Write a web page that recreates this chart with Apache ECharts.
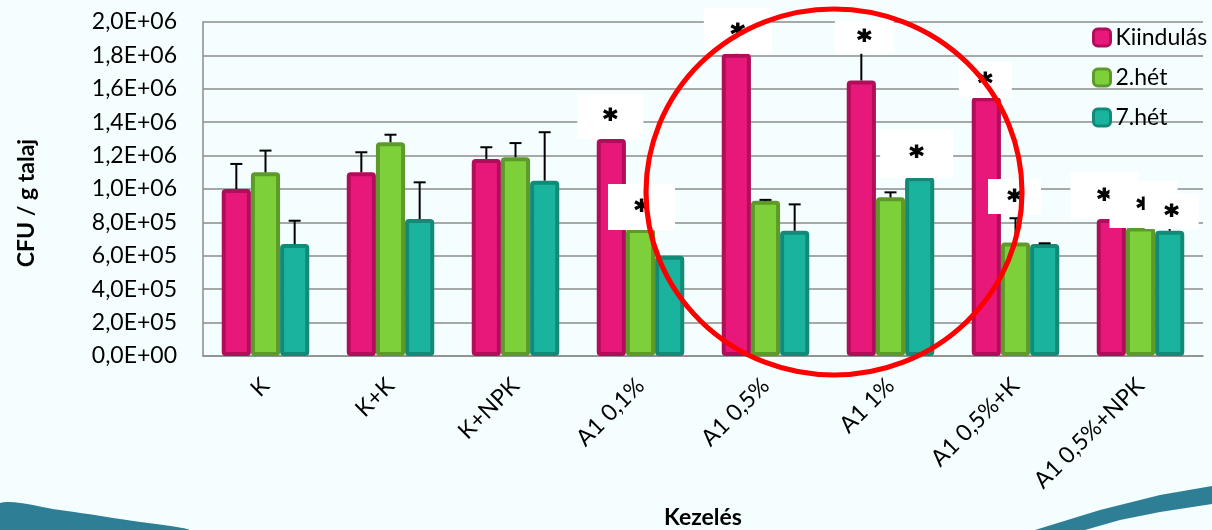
<!DOCTYPE html>
<html>
<head>
<meta charset="utf-8">
<script src="https://cdn.jsdelivr.net/npm/echarts@6/dist/echarts.min.js"></script>
<style>
  html, body { margin: 0; padding: 0; background: #f5fefe; }
  #chart { width: 1212px; height: 530px; }
</style>
</head>
<body>
<div id="chart"></div>
<script>
// Treatments on the category axis
const categories = ['K', 'K+K', 'K+NPK', 'A1 0,1%', 'A1 0,5%', 'A1 1%', 'A1 0,5%+K', 'A1 0,5%+NPK'];
const seriesNames = ['Kiindulás', '2.hét', '7.hét'];

// CFU / g soil per sampling time
const kiindulas = [1.00e6, 1.10e6, 1.18e6, 1.30e6, 1.81e6, 1.65e6, 1.55e6, 0.82e6];
const het2      = [1.10e6, 1.28e6, 1.19e6, 0.76e6, 0.93e6, 0.95e6, 0.68e6, 0.77e6];
const het7      = [0.67e6, 0.82e6, 1.05e6, 0.60e6, 0.75e6, 1.07e6, 0.67e6, 0.75e6];

// Standard deviations (upper whiskers)
const kiindulasErr = [0.15e6, 0.12e6, 0.07e6, 0.10e6, 0.10e6, 0.17e6, 0.10e6, 0.10e6];
const het2Err      = [0.13e6, 0.045e6, 0.085e6, 0.10e6, 0.005e6, 0.03e6, 0.145e6, 0.05e6];
const het7Err      = [0.14e6, 0.22e6, 0.29e6, 0, 0.158e6, 0.10e6, 0.005e6, 0.02e6];

// Significance markers: [category index, level the marker box sits on]
const kiindulasStars = [[3, 1.30e6], [4, 1.81e6], [5, 1.81e6], [6, 1.545e6], [7, 0.82e6]];
const het2Stars      = [[3, 0.755e6], [6, 0.85e6], [7, 0.766e6]];
const het7Stars      = [[5, 1.066e6], [7, 0.76e6]];

// Y axis ticks
const yMin = 0, yMax = 2.0e6, yStep = 2.0e5;

// ---- styling ----
const FONT = 'Lato, "Open Sans", sans-serif';
const fills   = ['#e8187a', '#7ed03a', '#1ab39e'];
const borders = ['#b00d5a', '#5e9a2a', '#128a78'];
const CAT_GAP = 0.30;   // share of a category band left empty

// marker box sizes [w, h] and small horizontal nudges, in marker order
const starBoxStyle = [
  [[66, 45, -1], [68, 46, 1.5], [59, 33, 3], [53, 36, -1], [68, 47, -7]],
  [[67, 46, 1], [53, 35, -1], [68, 47, 3]],
  [[73, 49, -3], [54, 35, 2]]
];

const values = [kiindulas, het2, het7];
const errs = [kiindulasErr, het2Err, het7Err];
const stars = [kiindulasStars, het2Stars, het7Stars];

function sciLabel(v) {
  // 2000000 -> "2,0E+06"
  const parts = v.toExponential(1).split('e');
  const n = parseInt(parts[1], 10);
  const exp = (n < 0 ? '-' : '+') + String(Math.abs(n)).padStart(2, '0');
  return parts[0].replace('.', ',') + 'E' + exp;
}

function markerData(si) {
  return stars[si].map((s, k) => {
    const st = starBoxStyle[si][k];
    return {
      coord: [s[0], s[1]],
      symbol: 'rect',
      symbolSize: [st[0], st[1]],
      symbolOffset: [st[2], -st[1] / 2]
    };
  });
}

const barSeries = seriesNames.map((name, si) => ({
  name: name,
  type: 'bar',
  data: values[si],
  barGap: '0%',
  barCategoryGap: (CAT_GAP * 100) + '%',
  z: 2,
  itemStyle: {
    color: fills[si],
    borderColor: borders[si],
    borderWidth: 4,
    borderRadius: 2
  },
  emphasis: { disabled: true },
  markPoint: {
    z: 5 + si,
    silent: true,
    animation: false,
    itemStyle: { color: '#ffffff', borderWidth: 0, opacity: 1 },
    label: {
      show: true,
      formatter: '*',
      position: 'inside',
      color: '#000',
      fontSize: 27,
      fontWeight: 'bold',
      fontFamily: '"DejaVu Sans", sans-serif',
      textBorderColor: '#000',
      textBorderWidth: 1.2,
      offset: [0, 5]
    },
    data: markerData(si)
  }
}));

// Whiskers drawn at each bar's own slot in the category band
const errSeries = seriesNames.map((name, si) => ({
  name: name + ' SD',
  type: 'custom',
  z: 3,
  silent: true,
  data: values[si].map((v, i) => [i, v, errs[si][i]]),
  renderItem: function (params, api) {
    const i = api.value(0), v = api.value(1), e = api.value(2);
    if (!(e > 0)) return null;
    const band = api.size([1, 0])[0];
    const bw = band * (1 - CAT_GAP) / 3;
    const base = api.coord([i, v]);
    const top = api.coord([i, v + e]);
    const x = base[0] + (si - 1) * bw;
    const style = { stroke: '#000', lineWidth: 2 };
    return {
      type: 'group',
      children: [
        { type: 'line', shape: { x1: x, y1: base[1], x2: x, y2: top[1] }, style: style },
        { type: 'line', shape: { x1: x - 6, y1: top[1], x2: x + 6, y2: top[1] }, style: style }
      ]
    };
  }
}));

const chart = echarts.init(document.getElementById('chart'), null, { renderer: 'canvas' });

chart.setOption({
  backgroundColor: '#f5fefe',
  animation: false,
  textStyle: { fontFamily: FONT },
  grid: { left: 203, right: 9, top: 22, bottom: 174 },
  legend: {
    data: seriesNames,
    orient: 'vertical',
    left: 1087,
    top: 21,
    icon: 'roundRect',
    itemWidth: 17,
    itemHeight: 17,
    itemGap: 17,
    itemStyle: { borderWidth: 3 },
    textStyle: { fontSize: 23, color: '#000', fontFamily: FONT, lineHeight: 23 }
  },
  xAxis: {
    type: 'category',
    data: categories,
    axisLine: { show: true, lineStyle: { color: '#8c8c8c', width: 1.5 } },
    axisTick: { show: false },
    axisLabel: {
      rotate: 45,
      interval: 0,
      margin: 26,
      fontSize: 23,
      color: '#000',
      fontFamily: FONT
    }
  },
  yAxis: {
    type: 'value',
    min: yMin,
    max: yMax,
    interval: yStep,
    axisLine: { show: true, lineStyle: { color: '#8c8c8c', width: 1.5 } },
    axisTick: { show: false },
    splitLine: { show: true, lineStyle: { color: '#8c8c8c', width: 1.5 } },
    axisLabel: {
      formatter: sciLabel,
      margin: 26,
      fontSize: 23,
      color: '#000',
      fontFamily: FONT
    }
  },
  series: barSeries.concat(errSeries),
  graphic: [
    {
      type: 'text', x: 27, y: 203, rotation: Math.PI / 2,
      style: {
        text: 'CFU / g talaj', fill: '#000', fontSize: 23, fontWeight: 'bold',
        fontFamily: FONT, align: 'center', verticalAlign: 'middle'
      }
    },
    {
      type: 'text', x: 703, y: 518,
      style: {
        text: 'Kezelés', fill: '#000', fontSize: 23, fontWeight: 'bold',
        fontFamily: FONT, align: 'center', verticalAlign: 'middle'
      }
    },
    {
      type: 'polygon', z: 0, silent: true,
      shape: { points: [[0, 503], [60, 510], [120, 519], [188, 530], [0, 530]], smooth: 0.3 },
      style: { fill: '#2e7f96' }
    },
    {
      type: 'polygon', z: 0, silent: true,
      shape: { points: [[1035, 530], [1100, 510], [1160, 495], [1212, 486], [1212, 504], [1160, 512], [1120, 520], [1085, 530]] },
      style: { fill: '#2e7f96' }
    },
    {
      type: 'circle', z: 100, silent: true,
      x: 834, y: 192, scaleX: 188 / 183, scaleY: 1,
      shape: { cx: 0, cy: 0, r: 183 },
      style: { fill: 'none', stroke: '#ff0000', lineWidth: 5 }
    }
  ]
});
</script>
</body>
</html>
